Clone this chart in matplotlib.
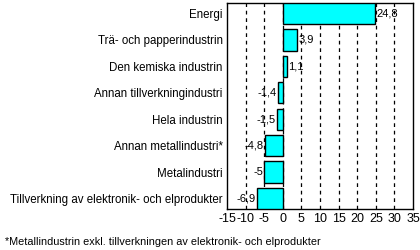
import matplotlib.pyplot as plt

categories = ["Energi", "Trä- och papperindustrin", "Den kemiska industrin",
              "Annan tillverkningindustri", "Hela industrin", "Annan metallindustri*",
              "Metalindustri", "Tillverkning av elektronik- och elprodukter"]
values = [24.8, 3.9, 1.1, -1.4, -1.5, -4.8, -5, -6.9]
xticks = [-15, -10, -5, 0, 5, 10, 15, 20, 25, 30, 35]
footnote = "*Metallindustrin exkl. tillverkningen av elektronik- och elprodukter"

plt.rcParams['font.family'] = ['Liberation Sans', 'DejaVu Sans']

fig = plt.figure(figsize=(4.2, 2.5), dpi=100)
ax = fig.add_axes([227 / 420, 1 - 209 / 250, 186 / 420, 206 / 250])

pos = list(range(len(categories)))
ax.barh(pos, values, height=0.8, color="#00ffff", edgecolor="black", linewidth=1, zorder=3)

for x in xticks[1:-1]:
    ax.axvline(x, color="black", linestyle=(0, (3, 3)), linewidth=0.9, zorder=1)

for p, v in zip(pos, values):
    txt = f"{v:g}".replace(".", ",")
    if v >= 0:
        ax.text(v + 0.3, p, txt, va="center", ha="left", fontsize=8, zorder=4)
    else:
        ax.text(v - 0.3, p, txt, va="center", ha="right", fontsize=8, zorder=4)

ax.set_xlim(-15, 35)
ax.set_ylim(len(categories) - 0.6, -0.4)
ax.set_xticks(xticks)
ax.set_xticklabels([str(t) for t in xticks], fontsize=9)
ax.set_yticks(pos)
ax.set_yticklabels(categories, fontsize=8.3)
ax.tick_params(axis="both", length=0, pad=3)
for s in ax.spines.values():
    s.set_color("black")
    s.set_linewidth(1)

fig.text(5 / 420, 1 - 242 / 250, footnote, fontsize=7.8, va="center", ha="left")

fig.savefig("out.png", dpi=100)
